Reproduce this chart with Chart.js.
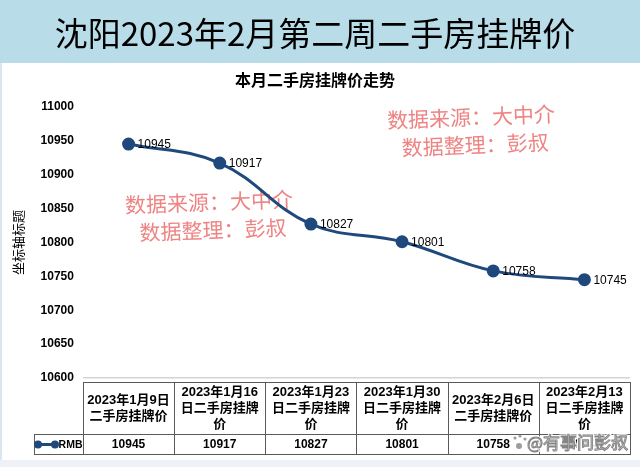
<!DOCTYPE html>
<html><head><meta charset="utf-8">
<script src="https://cdn.jsdelivr.net/npm/chart.js@4.4.1/dist/chart.umd.min.js"></script>
<style>html,body{margin:0;padding:0;background:#fff;overflow:hidden}#wrap{width:640px;height:467px;position:relative}</style>
</head><body><div id="wrap"><canvas id="c" width="640" height="467"></canvas></div>
<script>
// ---- data ----
const pageTitle = '沈阳2023年2月第二周二手房挂牌价';
const chartTitle = '本月二手房挂牌价走势';
const yAxisTitle = '坐标轴标题';
const categories = [
  ['2023年1月9日', '二手房挂牌价'],
  ['2023年1月16', '日二手房挂牌', '价'],
  ['2023年1月23', '日二手房挂牌', '价'],
  ['2023年1月30', '日二手房挂牌', '价'],
  ['2023年2月6日', '二手房挂牌价'],
  ['2023年2月13', '日二手房挂牌', '价']
];
const seriesName = 'RMB';
const prices = [10945, 10917, 10827, 10801, 10758, 10745];
const yMin = 10600, yMax = 11000, yStep = 50;
const noteLines = ['数据来源：大中介', '数据整理：彭叔'];
const credit = '@有事问彭叔';

// ---- style ----
const FONT = '"Liberation Sans", "Noto Sans CJK SC", sans-serif';
const CJK = '"Noto Sans CJK SC", sans-serif';
const LINE = '#1f497d';

const bgPlugin = {
  id: 'bg',
  beforeDraw(chart) {
    const ctx = chart.ctx;
    ctx.save();
    ctx.fillStyle = '#ffffff';
    ctx.fillRect(0, 0, chart.width, chart.height);
    ctx.fillStyle = '#b8dde8';
    ctx.fillRect(0, 0, chart.width, 63);
    ctx.fillStyle = '#dce6ef';
    ctx.fillRect(0, 63, 2, chart.height - 63);
    ctx.fillStyle = '#eef1f6';
    ctx.fillRect(0, 460, chart.width, 7);
    ctx.restore();
  }
};

const notePlugin = {
  id: 'notes',
  beforeDatasetsDraw(chart) {
    const ctx = chart.ctx;
    const spots = [[209, 202, -0.035], [471, 117, -0.04]];
    ctx.save();
    ctx.fillStyle = 'rgba(236,118,118,0.9)';
    ctx.font = '21px ' + CJK;
    ctx.textAlign = 'center';
    ctx.textBaseline = 'middle';
    spots.forEach(([cx, cy, rot]) => {
      ctx.save();
      ctx.translate(cx, cy);
      ctx.rotate(rot);
      ctx.fillText(noteLines[0], 0, 0);
      ctx.fillText(noteLines[1], 3, 28);
      ctx.restore();
    });
    ctx.restore();
  }
};

const labelPlugin = {
  id: 'vlabels',
  afterDatasetsDraw(chart) {
    const ctx = chart.ctx;
    const meta = chart.getDatasetMeta(0);
    ctx.save();
    ctx.fillStyle = '#000';
    ctx.font = '12px ' + FONT;
    ctx.textAlign = 'left';
    ctx.textBaseline = 'middle';
    meta.data.forEach((pt, i) => {
      ctx.fillText(String(prices[i]), pt.x + 9, pt.y + 1);
    });
    ctx.restore();
  }
};

const tablePlugin = {
  id: 'dtable',
  afterDraw(chart) {
    const ctx = chart.ctx;
    const xs = chart.scales.x;
    const ca = chart.chartArea;
    const n = categories.length;
    const colW = ca.width / n;
    const top = Math.round(ca.bottom + 4) + 0.5;
    const headH = 52, rowH = 20;
    const r = v => Math.round(v) + 0.5;
    ctx.save();
    ctx.strokeStyle = '#5a5a5a';
    ctx.lineWidth = 1;
    ctx.fillStyle = '#000';
    ctx.textAlign = 'center';
    ctx.textBaseline = 'middle';
    for (let i = 0; i < n; i++) {
      const cx = xs.getPixelForValue(i);
      const x0 = r(cx - colW / 2), x1 = r(cx + colW / 2);
      ctx.strokeRect(x0, top, x1 - x0, headH);
      ctx.strokeRect(x0, top + headH, x1 - x0, rowH);
      const lines = categories[i];
      const lh = 16;
      const y0 = top + headH / 2 - (lines.length - 1) * lh / 2;
      ctx.font = 'bold 13px ' + FONT;
      lines.forEach((t, k) => ctx.fillText(t, cx, y0 + k * lh));
      ctx.font = 'bold 12px ' + FONT;
      ctx.fillText(String(prices[i]), cx, top + headH + rowH / 2 + 0.5);
    }
    // legend cell
    const lx0 = 34.5, lx1 = r(ca.left);
    ctx.strokeRect(lx0, top + headH, lx1 - lx0, rowH);
    const ly = top + headH + rowH / 2;
    ctx.strokeStyle = LINE;
    ctx.lineWidth = 3;
    ctx.beginPath(); ctx.moveTo(37, ly); ctx.lineTo(56, ly); ctx.stroke();
    ctx.fillStyle = LINE;
    [38, 55].forEach(x => { ctx.beginPath(); ctx.arc(x, ly, 4, 0, Math.PI * 2); ctx.fill(); });
    ctx.fillStyle = '#000';
    ctx.font = 'bold 10.5px ' + FONT;
    ctx.textAlign = 'right';
    ctx.fillText(seriesName, lx1 - 1, ly + 0.5);

    // credit watermark
    ctx.font = '17px ' + CJK;
    ctx.textAlign = 'left';
    ctx.lineWidth = 3;
    ctx.strokeStyle = 'rgba(255,255,255,0.95)';
    ctx.strokeText(credit, 527, 443);
    ctx.fillStyle = 'rgba(255,255,255,0.97)';
    ctx.fillText(credit, 527, 443);
    ctx.lineWidth = 1;
    ctx.strokeStyle = 'rgba(120,120,120,0.9)';
    ctx.strokeText(credit, 527, 443);
    ctx.fillStyle = 'rgba(140,140,140,0.85)';
    [[515, 438, 1.6], [520, 436, 1.6], [525, 439, 1.6], [519, 446, 3]].forEach(([x, y, rr]) => {
      ctx.beginPath(); ctx.arc(x, y, rr, 0, Math.PI * 2); ctx.fill();
    });
    ctx.restore();
  }
};

new Chart(document.getElementById('c'), {
  type: 'line',
  data: {
    labels: categories,
    datasets: [{
      label: seriesName,
      data: prices,
      borderColor: LINE,
      backgroundColor: LINE,
      borderWidth: 3,
      pointRadius: 5,
      pointBackgroundColor: LINE,
      pointBorderColor: LINE,
      tension: 0.4,
      fill: false,
      clip: false
    }]
  },
  options: {
    responsive: false,
    animation: false,
    devicePixelRatio: 1,
    layout: { padding: { top: 0, left: 0, right: 10, bottom: 89 } },
    plugins: {
      legend: { display: false },
      tooltip: { enabled: false },
      title: {
        display: true, text: pageTitle, color: '#000',
        font: { family: CJK, size: 33, weight: 'normal' },
        padding: { top: 14, bottom: 17 }
      },
      subtitle: {
        display: true, text: chartTitle, color: '#000',
        font: { family: CJK, size: 16, weight: 'bold' },
        padding: { top: 0, bottom: 17 }
      }
    },
    scales: {
      x: { type: 'category', display: false, offset: true },
      y: {
        min: yMin, max: yMax,
        ticks: {
          stepSize: yStep, color: '#000', padding: 9,
          font: { family: FONT, size: 12, weight: 'bold' },
          callback: v => String(v)
        },
        title: { display: true, text: yAxisTitle, color: '#000', font: { family: CJK, size: 13 }, padding: { top: 10, bottom: 6 } },
        grid: {
          drawTicks: false,
          lineWidth: 1.5,
          color: c => (c.tick && c.tick.value === yMin) ? '#d4d4d4' : 'rgba(0,0,0,0)'
        },
        border: { display: false }
      }
    }
  },
  plugins: [bgPlugin, notePlugin, labelPlugin, tablePlugin]
});
</script>
</body></html>
